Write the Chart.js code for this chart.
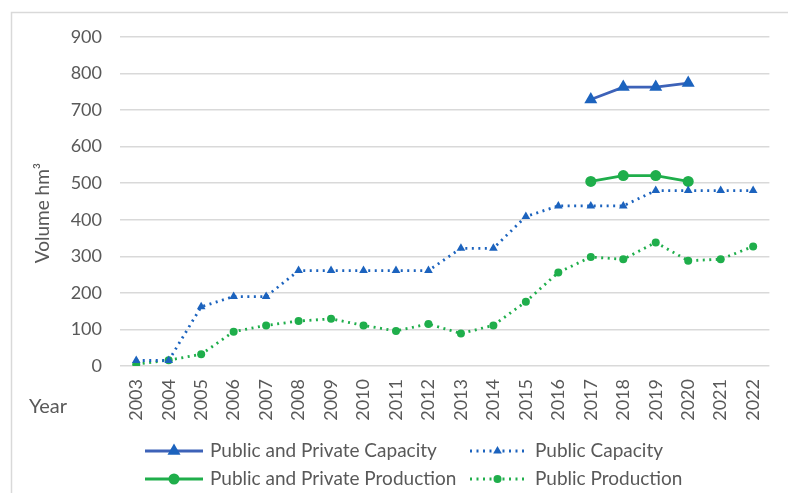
<!DOCTYPE html>
<html>
<head>
<meta charset="utf-8">
<script src="https://cdn.jsdelivr.net/npm/chart.js"></script>
<style>
  html, body { margin: 0; padding: 0; background: #fff; }
  #wrap { width: 788px; height: 493px; }
</style>
</head>
<body>
<div id="wrap"><canvas id="volChart" width="788" height="493"></canvas></div>
<script>
const years = ['2003', '2004', '2005', '2006', '2007', '2008', '2009', '2010', '2011', '2012',
  '2013', '2014', '2015', '2016', '2017', '2018', '2019', '2020', '2021', '2022'];

const pubPrivCapacity = [null, null, null, null, null, null, null, null, null, null,
  null, null, null, null, 729, 763, 763, 774, null, null];
const pubCapacity = [15, 15, 162, 190, 190, 261, 261, 261, 261, 261,
  322, 322, 409, 438, 438, 438, 480, 480, 480, 480];
const pubPrivProduction = [null, null, null, null, null, null, null, null, null, null,
  null, null, null, null, 505, 521, 521, 505, null, null];
const pubProduction = [5, 16, 32, 94, 111, 123, 129, 111, 96, 115,
  89, 111, 176, 256, 298, 292, 338, 288, 292, 327];

const yTicks = [0, 100, 200, 300, 400, 500, 600, 700, 800, 900];

const FONT = 'Lato, "Open Sans", sans-serif';
const TEXT = '#595959';
const BLUE_LINE = '#3d62b8';
const BLUE = '#1c63be';
const GREEN = '#1fae4b';
const DOTS = [2, 4.5];

const series = [
  { label: 'Public and Private Capacity', data: pubPrivCapacity, line: BLUE_LINE, mark: BLUE, dash: [], shape: 'triangle', r: 7.5 },
  { label: 'Public Capacity', data: pubCapacity, line: BLUE, mark: BLUE, dash: DOTS, shape: 'triangle', r: 5 },
  { label: 'Public and Private Production', data: pubPrivProduction, line: GREEN, mark: GREEN, dash: [], shape: 'circle', r: 5.5 },
  { label: 'Public Production', data: pubProduction, line: GREEN, mark: GREEN, dash: DOTS, shape: 'circle', r: 4 }
];

function marker(ctx, shape, x, y, r, color) {
  ctx.save();
  ctx.fillStyle = color;
  ctx.beginPath();
  if (shape === 'triangle') {
    ctx.moveTo(x, y - r);
    ctx.lineTo(x + r * Math.sqrt(3) / 2, y + r / 2);
    ctx.lineTo(x - r * Math.sqrt(3) / 2, y + r / 2);
    ctx.closePath();
  } else {
    ctx.arc(x, y, r, 0, Math.PI * 2);
  }
  ctx.fill();
  ctx.restore();
}

// frame, axis captions and the two-column legend under the axis
const decorations = {
  id: 'decorations',
  beforeDraw(chart) {
    const ctx = chart.ctx;
    ctx.save();
    ctx.fillStyle = '#fff';
    ctx.fillRect(0, 0, chart.width, chart.height);
    ctx.strokeStyle = '#d9d9d9';
    ctx.lineWidth = 1.5;
    ctx.strokeRect(11.5, 12.5, chart.width + 20, chart.height + 20);
    ctx.restore();
  },
  afterDraw(chart) {
    const ctx = chart.ctx;
    ctx.save();
    ctx.fillStyle = TEXT;
    ctx.textBaseline = 'middle';

    ctx.save();
    ctx.translate(43, 213);
    ctx.rotate(-Math.PI / 2);
    ctx.textAlign = 'center';
    ctx.font = '19px ' + FONT;
    ctx.fillText('Volume hm³', 0, 0);
    ctx.restore();

    ctx.font = '20px ' + FONT;
    ctx.fillText('Year', 29, 407);

    ctx.font = '19px ' + FONT;
    const cols = [{ x0: 145, x1: 203, tx: 210 }, { x0: 470, x1: 525, tx: 535 }];
    const rows = [451, 479];
    series.forEach((s, i) => {
      const c = cols[i % 2];
      const y = rows[Math.floor(i / 2)];
      ctx.save();
      ctx.strokeStyle = s.line;
      ctx.lineWidth = 2.8;
      ctx.setLineDash(s.dash);
      ctx.beginPath();
      ctx.moveTo(c.x0, y);
      ctx.lineTo(c.x1, y);
      ctx.stroke();
      ctx.restore();
      marker(ctx, s.shape, (c.x0 + c.x1) / 2, y, s.r, s.mark);
      ctx.fillText(s.label, c.tx, y);
    });
    ctx.restore();
  }
};

const ctx = document.getElementById('volChart').getContext('2d');
const chart = new Chart(ctx, {
  type: 'line',
  data: {
    labels: years,
    datasets: series.map(s => ({
      label: s.label,
      data: s.data,
      borderColor: s.line,
      backgroundColor: s.mark,
      pointBackgroundColor: s.mark,
      pointBorderColor: s.mark,
      borderWidth: 2.8,
      borderDash: s.dash,
      pointStyle: s.shape,
      pointRadius: s.r,
      pointBorderWidth: 0,
      spanGaps: false,
      tension: 0,
      fill: false
    }))
  },
  options: {
    responsive: false,
    devicePixelRatio: 1,
    animation: false,
    layout: { padding: { top: 37, right: 10, left: 0, bottom: 0 } },
    plugins: {
      legend: { display: false },
      tooltip: { enabled: false }
    },
    scales: {
      x: {
        offset: true,
        grid: { display: false, drawTicks: false },
        border: { display: false },
        ticks: {
          autoSkip: false,
          maxRotation: 90,
          minRotation: 90,
          padding: 13,
          color: TEXT,
          font: { family: FONT, size: 18 }
        },
        afterFit(scale) { scale.height = 127; }
      },
      y: {
        min: 0,
        max: 900,
        afterBuildTicks(scale) { scale.ticks = yTicks.map(v => ({ value: v })); },
        grid: { color: '#d9d9d9', lineWidth: 1.5, drawTicks: false },
        border: { display: false },
        ticks: {
          padding: 18,
          color: TEXT,
          font: { family: FONT, size: 18 }
        },
        afterFit(scale) { scale.width = 120; }
      }
    }
  },
  plugins: [decorations]
});
</script>
</body>
</html>
